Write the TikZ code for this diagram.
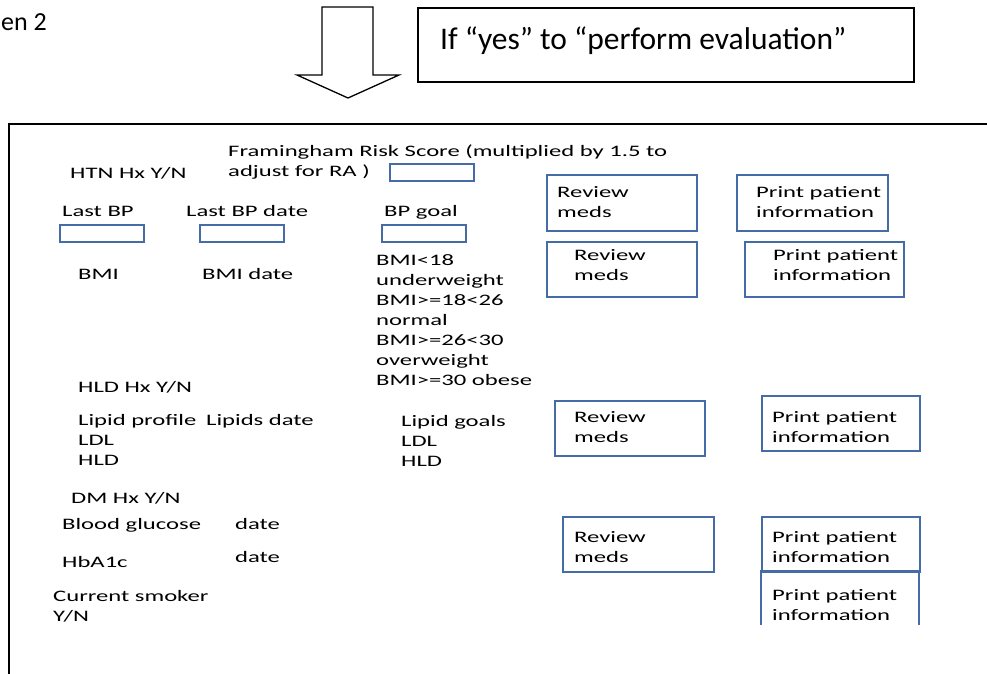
\documentclass[tikz,border=0pt]{standalone}
\usepackage{fontspec}
\setmainfont{Carlito}
\newfontfamily\widefont[FakeStretch=1.54]{Carlito}
\newcommand{\fst}{\rule{0pt}{13pt}}
\definecolor{boxblue}{RGB}{70,108,165}
\tikzset{
  t/.style={inner sep=0pt, anchor=north west, align=left, font=\widefont\fontsize{16}{20}\selectfont},
  bbox/.style={draw=boxblue, line width=2.2pt, anchor=north west, inner sep=0pt},
}
\begin{document}
\begin{tikzpicture}[x=1pt,y=-1pt]
\useasboundingbox (0,0) rectangle (987,673);
% top
\node[inner sep=0pt, anchor=base east, font=\fontsize{26}{30}\selectfont] (title) at (47,30) {en 2};
\draw[line width=1.3pt, fill=white] (322,7) -- (373,7) -- (373,75) -- (399,75) -- (348,98) -- (297,75) -- (322,75) -- cycle;
\node[draw, line width=1.5pt, anchor=north west, minimum width=496pt, minimum height=74pt, inner sep=0pt] (ifbox) at (417,7) {};
\node[inner sep=0pt, anchor=base west, font=\fontsize{31.5}{35}\selectfont] (iftext) at (440,49) {If “yes” to “perform evaluation”};
% main frame
\draw[line width=1.8pt] (9,700) -- (9,124) -- (1000,124);
% hypertension
\node[t] (fram) at (228,143) {\fst Framingham Risk Score (multiplied by 1.5 to\\adjust for RA )};
\node[bbox, minimum width=84pt, minimum height=17pt] (frbox) at (389,163) {};
\node[t] (htn) at (70,165) {\fst HTN Hx Y/N};
\node[t] (lastbp) at (62,203) {\fst Last BP};
\node[t] (lastbpdate) at (186,203) {\fst Last BP date};
\node[t] (bpgoal) at (384,203) {\fst BP goal};
\node[bbox, minimum width=84pt, minimum height=17pt] (lbbox) at (59,224) {};
\node[bbox, minimum width=84pt, minimum height=17pt] (lbdbox) at (199,224) {};
\node[bbox, minimum width=84pt, minimum height=17pt] (bpgbox) at (381,224) {};
% BMI
\node[t] (bmi) at (78,266) {\fst BMI};
\node[t] (bmidate) at (202,266) {\fst BMI date};
\node[t] (bmilist) at (376,252) {\fst BMI<18\\underweight\\BMI>=18<26\\normal\\BMI>=26<30\\overweight\\BMI>=30 obese};
% lipids
\node[t] (hld) at (78,379) {\fst HLD Hx Y/N};
\node[t] (lipid) at (78,412) {\fst Lipid profile\\LDL\\HLD};
\node[t] (lipiddate) at (206,412) {\fst Lipids date};
\node[t] (lipidgoals) at (401,413) {\fst Lipid goals\\LDL\\HLD};
% diabetes
\node[t] (dm) at (71,490) {\fst DM Hx Y/N};
\node[t] (bg) at (62,516) {\fst Blood glucose};
\node[t] (date1) at (235,516) {\fst date};
\node[t] (hba) at (62,554) {\fst HbA1c};
\node[t] (date2) at (235,549) {\fst date};
\node[t] (smoker) at (53,588) {\fst Current smoker\\Y/N};
% action boxes
\node[bbox, minimum width=150pt, minimum height=56pt] (rev1) at (546,174) {};
\node[t] (rev1t) at (557,184) {\fst Review\\meds};
\node[bbox, minimum width=151pt, minimum height=56pt] (prt1) at (736,174) {};
\node[t] (prt1t) at (756,184) {\fst Print patient\\information};
\node[bbox, minimum width=150pt, minimum height=55pt] (rev2) at (546,241) {};
\node[t] (rev2t) at (574,247) {\fst Review\\meds};
\node[bbox, minimum width=159pt, minimum height=55pt] (prt2) at (744,241) {};
\node[t] (prt2t) at (773,247) {\fst Print patient\\information};
\node[bbox, minimum width=150pt, minimum height=55pt] (rev3) at (554,400) {};
\node[t] (rev3t) at (574,409) {\fst Review\\meds};
\node[bbox, minimum width=158pt, minimum height=55pt] (prt3) at (761,395) {};
\node[t] (prt3t) at (772,409) {\fst Print patient\\information};
\node[bbox, minimum width=151pt, minimum height=55pt] (rev4) at (562,516) {};
\node[t] (rev4t) at (574,529) {\fst Review\\meds};
\node[bbox, minimum width=158pt, minimum height=55pt] (prt4) at (761,516) {};
\node[t] (prt4t) at (772,529) {\fst Print patient\\information};
\coordinate (p5a) at (761,571);
\coordinate (p5b) at (761,625);
\coordinate (p5c) at (919,625);
\coordinate (p5d) at (919,571);
\draw[boxblue, line width=2.2pt] (p5b) -- (p5a) -- (p5d) -- (p5c);
\node[t] (prt5t) at (772,587) {\fst Print patient\\information};
\end{tikzpicture}
\end{document}
